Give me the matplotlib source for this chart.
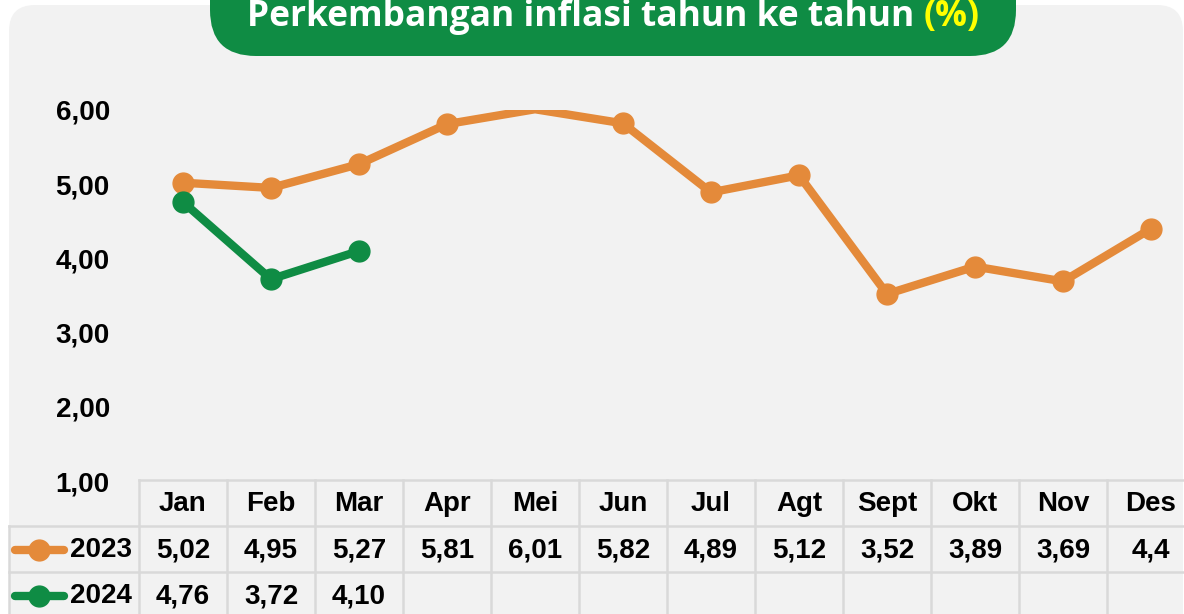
import matplotlib
matplotlib.use('Agg')
import matplotlib.pyplot as plt
import matplotlib.transforms as mtransforms
from matplotlib.patches import FancyBboxPatch
from matplotlib.lines import Line2D

months = ['Jan', 'Feb', 'Mar', 'Apr', 'Mei', 'Jun', 'Jul', 'Agt', 'Sept', 'Okt', 'Nov', 'Des']
infl_2023 = [5.02, 4.95, 5.27, 5.81, 6.01, 5.82, 4.89, 5.12, 3.52, 3.89, 3.69, 4.40]
infl_2024 = [4.76, 3.72, 4.10]
labels_2023 = ['5,02', '4,95', '5,27', '5,81', '6,01', '5,82', '4,89', '5,12', '3,52', '3,89', '3,69', '4,4']
labels_2024 = ['4,76', '3,72', '4,10']
yticks = [1, 2, 3, 4, 5, 6]
title = 'Perkembangan inflasi tahun ke tahun '

ORANGE = '#e48a3a'
GREEN = '#0f8c44'
PANEL = '#f2f2f2'
GRID = '#d9d9d9'
FONT = ['Liberation Sans', 'DejaVu Sans']
YMAX = 6

W, H = 1184, 614
fig = plt.figure(figsize=(W / 100, H / 100), dpi=100)

# background axes in pixel units (y downwards)
bg = fig.add_axes([0, 0, 1, 1])
bg.set_xlim(0, W)
bg.set_ylim(H, 0)
bg.axis('off')
bg.add_patch(FancyBboxPatch((9, 5), 1174, 700, boxstyle='round,pad=0,rounding_size=26',
                            fc=PANEL, ec='none', zorder=0))
bg.add_patch(FancyBboxPatch((210, -80), 806, 136, boxstyle='round,pad=0,rounding_size=46',
                            fc=GREEN, ec='none', zorder=1))
t1 = bg.text(247, 26, title, color='white', fontsize=25.5, fontweight='bold',
             family='Open Sans', ha='left', va='baseline', zorder=2)
bg.annotate('(%)', xy=(1, 0), xycoords=t1, ha='left', va='bottom', color='#ffff00',
            fontsize=25.5, fontweight='bold', family='Open Sans', zorder=2)

# main chart axes
left, top, bottom = 139, 110, 481
ax = fig.add_axes([left / W, (H - bottom) / H, 88 * 12 / W, (bottom - top) / H])
ax.set_facecolor('none')
x = list(range(len(months)))
# points above the axis maximum get no marker, as in the original
shown = [i for i, v in enumerate(infl_2023) if v <= YMAX]
ax.plot(x, infl_2023, color=ORANGE, lw=6, marker='o', ms=15, markevery=shown, zorder=3)
ax.plot(x[:len(infl_2024)], infl_2024, color=GREEN, lw=6, marker='o', ms=15, zorder=4)
ax.set_xlim(-0.5, 11.5)
ax.set_ylim(1, YMAX)
ax.set_xticks([])
ax.set_yticks(yticks)
ax.set_yticklabels([f'{v:.2f}'.replace('.', ',') for v in yticks],
                   fontsize=20, fontweight='bold', family=FONT)
ax.tick_params(axis='y', length=0, pad=21)
for s in ax.spines.values():
    s.set_visible(False)

# data table under the chart
trans = mtransforms.blended_transform_factory(ax.transData, bg.transData)
row_edges = [480, 526, 572, 640]
row_mid = [504, 550, 596]
txt = dict(fontsize=20, fontweight='bold', family=FONT, ha='center', va='center', zorder=3)

bg.plot([left, W + 20], [row_edges[0]] * 2, color=GRID, lw=1.8, zorder=1)
for y in row_edges[1:3]:
    bg.plot([9, W + 20], [y, y], color=GRID, lw=1.8, zorder=1)
bg.plot([9, 9], [row_edges[1], row_edges[3]], color=GRID, lw=1.8, zorder=1)
for i in range(len(months) + 1):
    bg.plot([i - 0.5] * 2, [row_edges[0], row_edges[3]], transform=trans,
            color=GRID, lw=1.8, zorder=1)

for i, m in enumerate(months):
    bg.text(i, row_mid[0], m, transform=trans, **txt)
for i, v in enumerate(labels_2023):
    bg.text(i, row_mid[1], v, transform=trans, **txt)
for i, v in enumerate(labels_2024):
    bg.text(i, row_mid[2], v, transform=trans, **txt)

# legend keys in the first column
for y, col, name in [(row_mid[1], ORANGE, '2023'), (row_mid[2], GREEN, '2024')]:
    bg.add_line(Line2D([15, 64], [y, y], color=col, lw=6, solid_capstyle='round', zorder=3))
    bg.add_line(Line2D([39], [y], color=col, marker='o', ms=15, zorder=3))
    bg.text(132, y, name, ha='right', va='center', fontsize=20, fontweight='bold',
            family=FONT, zorder=3)

fig.savefig('out.png', dpi=100)
